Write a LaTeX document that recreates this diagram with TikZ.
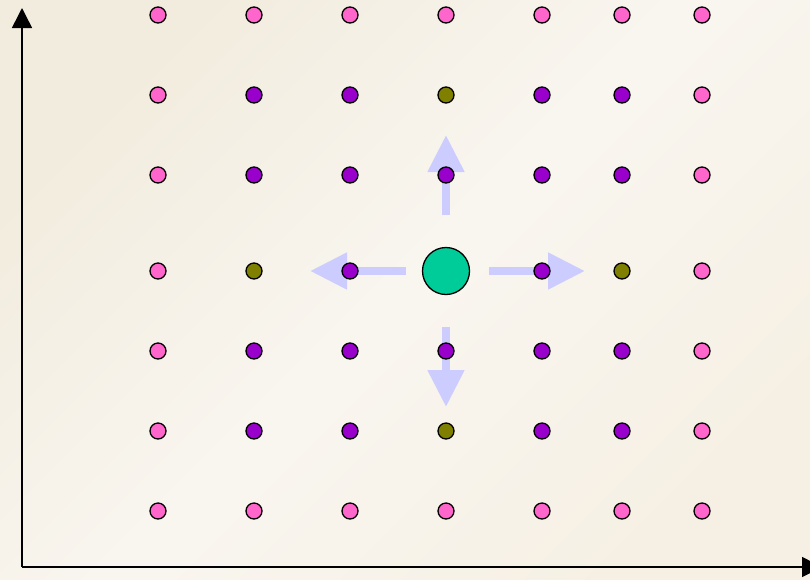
\documentclass[tikz,border=0pt]{standalone}
\usetikzlibrary{arrows.meta}
\definecolor{bgA}{HTML}{F2ECDE}
\definecolor{bgB}{HTML}{F9F6F0}
\definecolor{bgC}{HTML}{F6F0E4}
\definecolor{pinkd}{HTML}{FF66CC}
\definecolor{purd}{HTML}{9900CC}
\definecolor{olvd}{HTML}{808000}
\definecolor{grnd}{HTML}{00CC99}
\definecolor{arrc}{HTML}{CCCCFF}
\tikzset{
  dot/.style={circle,draw=black,line width=1.3pt,minimum size=16pt,inner sep=0pt},
  pk/.style={dot,fill=pinkd},
  pu/.style={dot,fill=purd},
  ol/.style={dot,fill=olvd},
  ctr/.style={circle,draw=black,line width=1.3pt,minimum size=47pt,inner sep=0pt,fill=grnd},
  axis/.style={line width=1.5pt,-{Triangle[width=20pt,length=20pt]}},
  bigarr/.style={arrc,line width=8pt,-{Triangle[width=35pt,length=37pt]}}
}
\def\nostr{no}
\begin{document}
\begin{tikzpicture}[x=1pt,y=-1pt]
\useasboundingbox (0,0) rectangle (810,579);
\shade[left color=bgA,right color=bgC,middle color=bgB,shading angle=45] (0,0) rectangle (810,579);
% axes
\coordinate (O) at (22,567);
\coordinate (Y) at (22,8);
\coordinate (X) at (822,567);
\draw[axis] (O) -- (Y);
\draw[axis] (O) -- (X);
% arrow anchor points
\coordinate (us) at (446,215); \coordinate (ut) at (446,135);
\coordinate (ls) at (406,271); \coordinate (lt) at (310,271);
\coordinate (rs) at (489,271); \coordinate (rt) at (585,271);
\coordinate (ds) at (446,327); \coordinate (dt) at (446,407);
\draw[bigarr] (us) -- (ut);
\draw[bigarr] (ls) -- (lt);
\draw[bigarr] (rs) -- (rt);
\draw[bigarr] (ds) -- (dt);
% grid of dots
\foreach \t [count=\j] in {
 {pk,pk,pk,pk,pk,pk,pk},
 {pk,pu,pu,ol,pu,pu,pk},
 {pk,pu,pu,pu,pu,pu,pk},
 {pk,ol,pu,no,pu,ol,pk},
 {pk,pu,pu,pu,pu,pu,pk},
 {pk,pu,pu,ol,pu,pu,pk},
 {pk,pk,pk,pk,pk,pk,pk}} {
  \pgfmathsetmacro{\yy}{{15,95,175,271,351,431,511}[\j-1]}
  \foreach \s [count=\i] in \t {
    \pgfmathsetmacro{\xx}{{158,254,350,446,542,622,702}[\i-1]}
    \ifx\s\nostr\else
      \node[\s] (d\j\i) at (\xx,\yy) {};
    \fi
  }
}
\node[ctr] (c) at (446,271) {};
\end{tikzpicture}
\end{document}
